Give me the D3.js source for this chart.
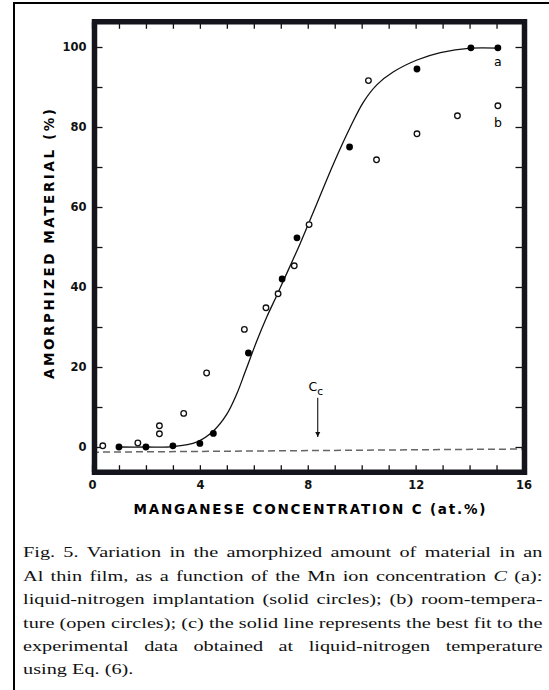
<!DOCTYPE html>
<html>
<head>
<meta charset="utf-8">
<script src="https://cdn.jsdelivr.net/npm/d3@7"></script>
<style>
  body { margin: 0; background: #fff; }
  svg { display: block; }
</style>
</head>
<body>
<div id="frame"></div>
<script>
// (a) liquid-nitrogen implantation, solid circles
let solidC = [1.0, 2.0, 3.0, 4.0, 4.5, 5.8, 7.05, 7.6, 9.55, 12.05, 14.05, 15.05];
let solidA = [0, 0, 0.3, 0.9, 3.4, 23.5, 42, 52.3, 75, 94.5, 99.8, 99.8];
// (b) room-temperature implantation, open circles
let openC = [0.4, 1.7, 2.5, 2.5, 3.4, 4.25, 5.65, 6.45, 6.9, 7.5, 8.05, 10.25, 10.55, 12.05, 13.55, 15.05];
let openA = [0.3, 1.0, 3.3, 5.3, 8.4, 18.5, 29.4, 34.8, 38.3, 45.3, 55.6, 91.6, 71.8, 78.3, 82.8, 85.3];
// (c) best fit line
let fitC = [1, 2, 3, 3.9, 4.5, 5.0, 5.37, 5.68, 6.11, 6.48, 6.86, 7.1, 7.72, 8.34, 8.96, 9.58, 10.07, 10.57, 11.18, 12.05, 12.92, 14.05, 15.05];
let fitA = [0, 0, 0.1, 1.3, 4.0, 8.2, 13.3, 18.8, 26.5, 32.5, 38.0, 41.6, 50.9, 60.9, 70.9, 80, 86.3, 90.6, 93.8, 96.75, 98.6, 99.7, 99.7];
// dashed reference line
let baseC = [0, 16];
let baseA = [-1.3, -0.5];
// critical concentration Cc marked by the arrow
let critC = 8.37;

let xTicks = d3.range(0, 17, 1);
let xLabels = [0, 4, 8, 12, 16];
let yTicks = d3.range(0, 101, 10);
let yLabels = [0, 20, 40, 60, 80, 100];

let xTitle = 'MANGANESE CONCENTRATION C (at.%)';
let yTitle = 'AMORPHIZED MATERIAL (%)';

// caption lines, "_" marks an italic word
let caption = [
    'Fig. 5. Variation in the amorphized amount of material in an',
    'Al thin film, as a function of the Mn ion concentration _C (a):',
    'liquid-nitrogen implantation (solid circles); (b) room-tempera-',
    'ture (open circles); (c) the solid line represents the best fit to the',
    'experimental data obtained at liquid-nitrogen temperature',
    'using Eq. (6).'
];

let W = 549, H = 690;

let x = d3.scaleLinear().domain([0, 16]).range([92, 523.5]);
let y = d3.scaleLinear().domain([-6.3, 106.3]).range([472.2, 21.8]);

let svg = d3.select('#frame')
    .append('svg')
    .attr('width', W)
    .attr('height', H);

let plotL = x(0) + 2.5, plotR = x(16) + 1, plotT = y(106.3), plotB = y(-6.3);
let lw = 5.5;

svg.append('defs').append('marker')
    .attr('id', 'head')
    .attr('viewBox', '0 0 10 10')
    .attr('refX', 10)
    .attr('refY', 5)
    .attr('markerWidth', 5)
    .attr('markerHeight', 8)
    .attr('markerUnits', 'userSpaceOnUse')
    .attr('orient', 'auto')
    .append('path')
    .attr('d', 'M0,0L10,5L0,10Z')
    .attr('fill', '#111');

//outer border of the scanned page (top and left only)
svg.append('path')
    .attr('d', 'M13,3H549M14,2V690')
    .attr('fill', 'none')
    .attr('stroke', '#000')
    .attr('stroke-width', 2);

let sans = '"DejaVu Sans", Verdana, sans-serif';

//axes, ticks pointing inwards
function styleAxis(g) {
    g.select('.domain').remove();
    g.selectAll('.tick line').attr('stroke', '#111').attr('stroke-width', 1.3);
    g.selectAll('.tick text')
        .attr('fill', '#111')
        .style('font-family', sans)
        .style('font-weight', 'bold')
        .style('font-size', '11.5px');
}

svg.append('g')
    .attr('transform', 'translate(0,' + plotB + ')')
    .call(d3.axisBottom(x).tickValues(xTicks).tickSize(-7).tickPadding(9)
        .tickFormat(d => xLabels.includes(d) ? d : ''))
    .call(styleAxis);

svg.append('g')
    .attr('transform', 'translate(0,' + plotT + ')')
    .call(d3.axisTop(x).tickValues(xTicks).tickSize(-7).tickFormat(''))
    .call(styleAxis);

svg.append('g')
    .attr('transform', 'translate(' + plotL + ',0)')
    .call(d3.axisLeft(y).tickValues(yTicks).tickSize(-8).tickPadding(8)
        .tickFormat(d => yLabels.includes(d) ? d : ''))
    .call(styleAxis);

svg.append('g')
    .attr('transform', 'translate(' + plotR + ',0)')
    .call(d3.axisRight(y).tickValues(yTicks).tickSize(-9).tickFormat(''))
    .call(styleAxis);

//dashed line
svg.append('path')
    .datum(d3.zip(baseC, baseA))
    .attr('d', d3.line().x(d => x(d[0])).y(d => y(d[1])))
    .attr('fill', 'none')
    .attr('stroke', '#666')
    .attr('stroke-width', 1.5)
    .attr('stroke-dasharray', '7,4');

//fit curve
svg.append('path')
    .datum(d3.zip(fitC, fitA))
    .attr('d', d3.line().curve(d3.curveCatmullRom.alpha(0.5)).x(d => x(d[0])).y(d => y(d[1])))
    .attr('fill', 'none')
    .attr('stroke', '#111')
    .attr('stroke-width', 1.3);

//open circles
svg.selectAll('circle.open')
    .data(d3.zip(openC, openA))
    .enter()
    .append('circle')
    .attr('class', 'open')
    .attr('cx', d => x(d[0]))
    .attr('cy', d => y(d[1]))
    .attr('r', 2.8)
    .attr('fill', '#fff')
    .attr('stroke', '#111')
    .attr('stroke-width', 1.3);

//solid circles
svg.selectAll('circle.solid')
    .data(d3.zip(solidC, solidA))
    .enter()
    .append('circle')
    .attr('class', 'solid')
    .attr('cx', d => x(d[0]))
    .attr('cy', d => y(d[1]))
    .attr('r', 3.4)
    .attr('fill', '#000');

//series letters
svg.append('text')
    .attr('x', x(15.05))
    .attr('y', y(96.3) + 4.5)
    .attr('text-anchor', 'middle')
    .style('font-family', sans)
    .style('font-size', '12.5px')
    .text('a');
svg.append('text')
    .attr('x', x(15.05))
    .attr('y', y(81.2) + 4.5)
    .attr('text-anchor', 'middle')
    .style('font-family', sans)
    .style('font-size', '12.5px')
    .text('b');

//Cc arrow
svg.append('line')
    .attr('x1', x(critC))
    .attr('x2', x(critC))
    .attr('y1', y(12.3))
    .attr('y2', y(2.5))
    .attr('stroke', '#111')
    .attr('stroke-width', 1.1)
    .attr('marker-end', 'url(#head)');
let cc = svg.append('text')
    .attr('x', x(critC) - 2)
    .attr('y', y(13.9))
    .attr('text-anchor', 'middle')
    .style('font-family', sans)
    .style('font-size', '12.5px');
cc.append('tspan').text('C');
cc.append('tspan').attr('dy', 4).style('font-size', '10.5px').text('c');

//axis titles
svg.append('text')
    .attr('x', (plotL + plotR) / 2)
    .attr('y', 514)
    .attr('text-anchor', 'middle')
    .attr('textLength', 352)
    .attr('lengthAdjust', 'spacing')
    .style('font-family', sans)
    .style('font-weight', 'bold')
    .style('font-size', '13.5px')
    .text(xTitle);

svg.append('text')
    .attr('transform', 'translate(54,244) rotate(-90)')
    .attr('text-anchor', 'middle')
    .attr('textLength', 270)
    .attr('lengthAdjust', 'spacing')
    .style('font-family', sans)
    .style('font-weight', 'bold')
    .style('font-size', '13.5px')
    .text(yTitle);

//caption, stretched a little to the scan's width and justified by hand
let capLeft = 23, capRight = 542.5, capTop = 557.5, capStep = 23.4;
let cap = svg.append('g');
let lines = caption.map((line, i) => {
    let t = cap.append('text')
        .attr('y', capTop + i * capStep)
        .style('font-family', '"Liberation Serif", "Times New Roman", serif')
        .style('font-size', '15.5px')
        .attr('fill', '#111');
    let spans = line.split(' ').map(w => {
        let italic = w.startsWith('_');
        return t.append('tspan')
            .style('font-style', italic ? 'italic' : 'normal')
            .text(italic ? w.slice(1) : w);
    });
    return { t: t, spans: spans, widths: spans.map(s => s.node().getComputedTextLength()) };
});
let space = 3.9;
let natural = lines.map(l => d3.sum(l.widths) + space * (l.widths.length - 1));
let stretch = (capRight - capLeft) / d3.max(natural);
cap.attr('transform', 'translate(' + capLeft + ',0) scale(' + stretch + ',1)');
let full = (capRight - capLeft) / stretch;
lines.forEach((l, i) => {
    let n = l.widths.length;
    let gap = i === lines.length - 1 ? space : (full - d3.sum(l.widths)) / (n - 1);
    let pos = 0;
    l.spans.forEach((s, k) => {
        s.attr('x', pos);
        pos += l.widths[k] + gap;
    });
});

//heavy frame round the plot, drawn last as its own svg layer
let frameSvg = d3.select('#frame')
    .style('position', 'relative')
    .append('svg')
    .attr('width', W)
    .attr('height', H)
    .style('position', 'absolute')
    .style('left', '0px')
    .style('top', '0px');
frameSvg.append('path')
    .attr('d', 'M' + plotL + ',' + plotT + 'H' + plotR + 'V' + plotB + 'H' + plotL + 'Z')
    .attr('fill', 'none')
    .attr('stroke', '#14141c')
    .attr('stroke-width', lw);
</script>
</body>
</html>
